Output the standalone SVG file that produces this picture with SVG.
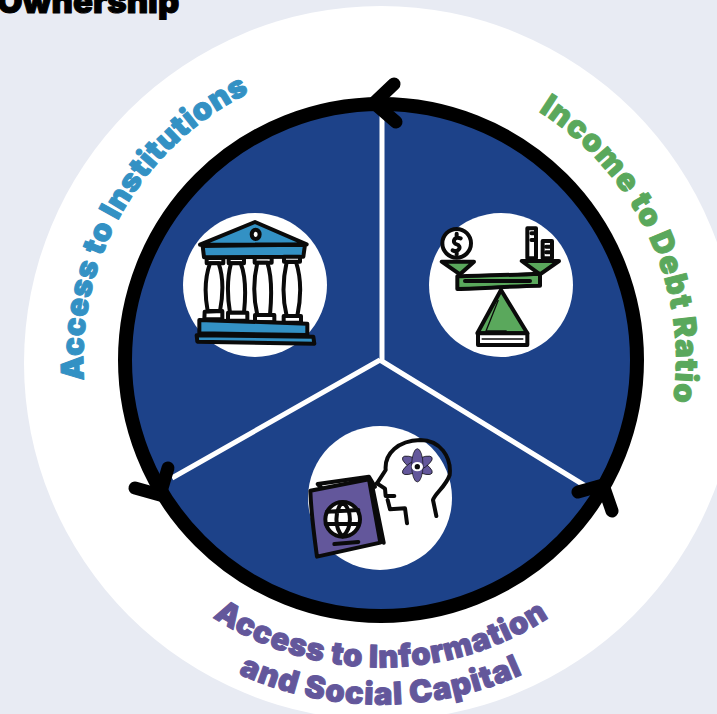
<svg xmlns="http://www.w3.org/2000/svg" width="717" height="714" viewBox="0 0 717 714">
<style>
.lbl{font-family:Inter,"Liberation Sans",sans-serif;font-weight:900;stroke-width:1;stroke-linejoin:round}
.ink{stroke:#0a0a0a;stroke-width:12;stroke-linejoin:round;stroke-linecap:round}
.ln{fill:none}
.w{fill:#fff}
.b{fill:#3391c4}
.g{fill:#5aa85c}
.p{fill:#63579b}
.arrow{fill:none;stroke:#000;stroke-width:13;stroke-linecap:round;stroke-linejoin:round}
</style>
<defs>
<path id="pL" d="M84,380 A298,298 0 0 1 381,62"/>
<path id="pR" d="M381,66 A295,295 0 0 1 676,360 A295,295 0 0 1 658,462"/>
<path id="pB1" d="M130,538 A308,308 0 0 0 632,538"/>
<path id="pB2" d="M90,545 A345,345 0 0 0 672,545"/>
</defs>
<rect width="717" height="714" fill="#e8ebf3"/>
<text class="lbl" x="-3" y="13" font-size="33" fill="#000" stroke="#000">Ownership</text>
<circle cx="381" cy="363" r="357" fill="#fff"/>
<circle cx="381" cy="360" r="256" fill="#1d4289"/>
<g id="connectors">
<path d="M382,360 V112 M380,360 L172,478 M380,360 L592,490" fill="none" stroke="#fff" stroke-width="5"/>
<circle cx="381" cy="360" r="256" fill="none" stroke="#000" stroke-width="14"/>
<path class="arrow" d="M394,84 L374,103 L396,122"/>
<path class="arrow" d="M168,468 L160,495 L135,488"/>
<path class="arrow" d="M578,492 L603,485 L612,511"/>
</g>
<g id="node-institutions">
<circle cx="255" cy="285" r="72" fill="#fff"/>
<g transform="translate(170 200) scale(.33333)">
<path class="b ink" d="M90,134 L255,66 L410,133 Z"/>
<path class="b ink" d="M98,138 L405,134 L400,170 L102,172 Z"/>
<ellipse class="w ink" cx="257" cy="103" rx="12" ry="14" stroke-width="8"/>
<path class="w ink" stroke-width="9" d="M110,174 H160 V190 H110 Z M176,174 H222 V190 H176 Z M254,172 H305 V188 H254 Z M342,170 H390 V185 H342 Z"/>
<path class="w ink" stroke-width="9" d="M120,190 C102,240 105,290 113,333 H150 C160,280 160,230 146,190 Z M183,190 C170,240 172,290 180,338 H222 C228,280 228,230 212,190 Z M262,188 C250,240 250,295 262,345 H300 C306,280 306,230 292,188 Z M350,186 C338,240 338,300 350,348 H382 C394,290 394,235 378,186 Z"/>
<path class="w ink" stroke-width="9" d="M104,335 L157,333 V357 L103,358 Z M174,338 H232 V362 H174 Z M255,345 H313 V367 H255 Z M341,348 H393 V368 H341 Z"/>
<path class="b ink" d="M88,360 L412,371 V405 L88,400 Z"/>
<path class="b ink" d="M80,406 L430,410 L433,431 L82,425 Z"/>
</g>
</g>
<g id="node-income">
<circle cx="501" cy="285" r="72" fill="#fff"/>
<g transform="translate(420 205) scale(.33333)">
<circle class="w ink" cx="110" cy="115" r="43"/>
<path class="ln ink" stroke-width="8" d="M122,100 C100,92 96,115 110,118 C126,122 118,145 98,136 M110,86 V92 M110,142 V148"/>
<path class="w ink" d="M322,70 H348 V160 H322 Z M368,108 H396 V160 H368 Z"/>
<path class="ln ink" stroke-width="6" d="M334,85 H348 M334,105 H348 M378,125 H396 M378,142 H396"/>
<path class="g ink" d="M65,170 H162 L120,208 Z"/>
<path class="g ink" d="M305,168 H417 L360,208 Z"/>
<path class="g ink" d="M112,214 C190,212 280,210 360,206 V242 C280,242 190,252 112,252 Z"/>
<path class="ln ink" stroke-width="5" d="M135,228 H330"/>
<path class="g ink" d="M243,255 L322,385 H172 Z"/>
<path class="w ink" d="M174,385 H322 V420 H174 Z"/>
<path class="ln" stroke="#0a0a0a" stroke-width="4" d="M185,402 H310 M235,285 L198,378 H260"/>
</g>
</g>
<g id="node-information">
<circle cx="380" cy="498" r="72" fill="#fff"/>
<g transform="translate(295 420) scale(.33333)">
<path class="ln ink" stroke-width="14" d="M246,190 L272,150 C268,100 310,62 375,60 C435,60 470,110 464,165 C452,200 420,220 414,240 L424,288"/>
<path class="ln ink" d="M246,190 L270,206 L272,228 L298,228 M278,240 L285,268 L330,265 L336,310"/>
<g fill="#63579b" stroke="#0a0a0a" stroke-width="2">
<ellipse cx="367" cy="136" rx="50" ry="17" transform="rotate(28 367 136)"/>
<ellipse cx="367" cy="136" rx="50" ry="17" transform="rotate(-28 367 136)"/>
<ellipse cx="367" cy="136" rx="17" ry="50"/>
</g>
<ellipse cx="367" cy="140" rx="17" ry="14" fill="#fff"/>
<circle cx="367" cy="140" r="8" fill="#0a0a0a"/>
<path class="w ink" d="M68,192 L222,170 L240,200 L90,215 Z"/>
<path class="p ink" stroke-width="15" d="M46,212 L222,178 L256,368 L66,410 C58,350 48,280 46,212 Z"/>
<path class="ln ink" d="M232,200 L266,368"/>
<circle class="w ink" cx="143" cy="298" r="52"/>
<path class="ln ink" stroke-width="8" d="M143,247 C118,270 118,325 143,349 C172,325 172,270 143,247 M96,275 L190,270 M92,312 L192,312"/>
<path class="ln ink" stroke-width="6" d="M118,372 L190,366"/>
</g>
</g>
<g id="labels">
<text class="lbl" font-size="31" letter-spacing=".5" fill="#3391c4" stroke="#3391c4"><textPath href="#pL" startOffset="0">Access to Institutions</textPath></text>
<text class="lbl" font-size="31" letter-spacing="1" fill="#5aa85c" stroke="#5aa85c"><textPath href="#pR" startOffset="166">Income to Debt Ratio</textPath></text>
<text class="lbl" font-size="31" letter-spacing=".6" fill="#63579b" stroke="#63579b" text-anchor="middle"><textPath href="#pB1" startOffset="50%">Access to Information</textPath></text>
<text class="lbl" font-size="31" letter-spacing=".9" fill="#63579b" stroke="#63579b" text-anchor="middle"><textPath href="#pB2" startOffset="50%">and Social Capital</textPath></text>
</g>
</svg>
